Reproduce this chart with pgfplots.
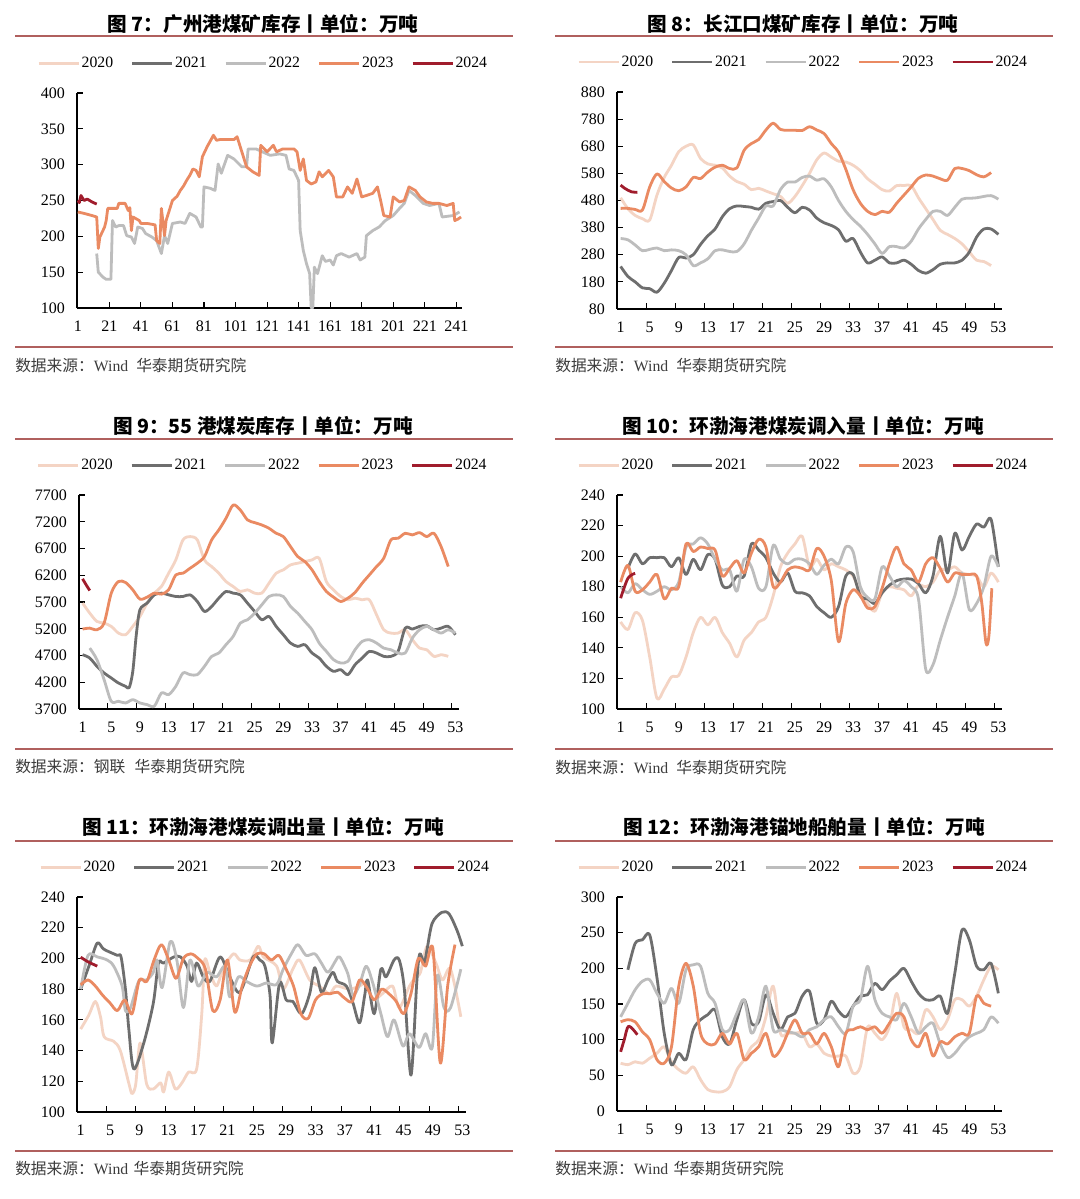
\documentclass[border=0pt]{standalone}
\usepackage{fontspec}
\setmainfont{Liberation Serif}
\newfontfamily\cjk{Noto Sans CJK SC}
\usepackage{pgfplots}
\pgfplotsset{compat=1.18}

\definecolor{c20}{HTML}{F4D4C4}
\definecolor{c21}{HTML}{6E6E6E}
\definecolor{c22}{HTML}{BDBDBD}
\definecolor{c23}{HTML}{EA8A62}
\definecolor{c24}{HTML}{A01C2C}
\definecolor{rulec}{HTML}{B0605E}
\definecolor{srcgray}{HTML}{3C3C3C}

\tikzset{
  s20/.style={color=c20, line width=2.1pt, line join=round},
  s21/.style={color=c21, line width=2.1pt, line join=round},
  s22/.style={color=c22, line width=2.1pt, line join=round},
  s23/.style={color=c23, line width=2.1pt, line join=round},
  s24/.style={color=c24, line width=2.1pt, line join=round},
}

\pgfplotsset{
  panel/.style={
    scale only axis, anchor=south west,
    axis x line*=bottom, axis y line*=left,
    axis line style={-, line width=0.8pt, black},
    tick align=inside,
    major tick length=4.5pt,
    tick style={black, line width=0.8pt},
    tick label style={font=\fontsize{12}{14}\selectfont, text=black},
    yticklabel style={xshift=-5.5pt},
    xticklabel style={yshift=-6pt},
    /pgf/number format/assume math mode=true,
    /pgf/number format/1000 sep={},
    scaled y ticks=false,
    legend columns=5,
    legend style={at={(0.483,1.138)}, anchor=center, draw=none, fill=none,
      font=\fontsize{11.8}{13}\selectfont, inner sep=0pt,
      /tikz/every even column/.append style={column sep=12pt},
      nodes={inner sep=1.2pt}},
    legend image code/.code={\draw[##1] (0pt,0pt) -- (30pt,0pt);},
    legend entries={2020,2021,2022,2023,2024},
  },
  weekly/.style={
    xmin=0.5, xmax=53.5,
    xtick={4.5,8.5,...,52.5}, xticklabels={},
    extra x ticks={1,5,...,53},
    extra x tick labels={1,5,9,13,17,21,25,29,33,37,41,45,49,53},
    extra x tick style={tick style={draw=none}},
  },
}

\newcommand\legimgs{\addlegendimage{s20}\addlegendimage{s21}\addlegendimage{s22}\addlegendimage{s23}\addlegendimage{s24}}

\begin{document}
\begin{tikzpicture}
\path[use as bounding box, fill=white] (0,0) rectangle (810pt,-899.25pt);

\begin{scope}[x=0.75pt, y=-0.75pt]
  \tikzset{ttl/.style={font=\cjk\bfseries\fontsize{14.7}{17}\selectfont, inner sep=0pt},
           src/.style={anchor=west, inner sep=0pt, text=srcgray, font=\fontsize{11.8}{13}\selectfont}}
  \node[ttl] at (263,24) {图 7：广州港煤矿库存丨单位：万吨};
  \node[ttl] at (803,24) {图 8：长江口煤矿库存丨单位：万吨};
  \node[ttl] at (263,426) {图 9：55 港煤炭库存丨单位：万吨};
  \node[ttl] at (803,426) {图 10：环渤海港煤炭调入量丨单位：万吨};
  \node[ttl] at (263,827) {图 11：环渤海港煤炭调出量丨单位：万吨};
  \node[ttl] at (804,827) {图 12：环渤海港锚地船舶量丨单位：万吨};
  \foreach \y in {36,347,439,749,841,1151} {\draw[rulec, line width=1.3pt] (15,\y) -- (513,\y); \draw[rulec, line width=1.3pt] (555,\y) -- (1053,\y);}
  \node[src] at (15,365) {{\cjk 数据来源：}Wind\hspace{6pt}{\cjk 华泰期货研究院}};
  \node[src] at (555,365) {{\cjk 数据来源：}Wind\hspace{6pt}{\cjk 华泰期货研究院}};
  \node[src] at (15,767) {{\cjk 数据来源：钢联\hspace{7pt}华泰期货研究院}};
  \node[src] at (555,767) {{\cjk 数据来源：}Wind\hspace{6pt}{\cjk 华泰期货研究院}};
  \node[src] at (15,1168) {{\cjk 数据来源：}Wind\hspace{4pt}{\cjk 华泰期货研究院}};
  \node[src] at (555,1168) {{\cjk 数据来源：}Wind\hspace{4pt}{\cjk 华泰期货研究院}};
\end{scope}

% ---------- 图7 广州港
\begin{axis}[panel, at={(57.75pt,-231pt)}, width=288.75pt, height=161.25pt,
  xmin=0.5, xmax=244.6, xtick={1,21,...,241}, ymin=100, ymax=400, ytick={100,150,...,400}]
\legimgs
\addplot[s22] coordinates {(13,176)(14,150)(17,143)(19,140)(21,140)(22,140)(23,222)(25,213)(27,215)(30,215)(32,201)(35,199)(37,190)(39,213)(42,211)(44,204)(48,199)(51,194)(54,176)(56,201)(58,190)(61,218)(66,220)(69,218)(72,232)(76,227)(79,213)(80,213)(81,269)(85,267)(88,264)(90,301)(92,288)(96,313)(100,308)(105,297)(108,297)(109,322)(114,322)(118,318)(123,313)(129,315)(133,313)(135,294)(138,292)(141,278)(142,208)(144,180)(146,162)(148,148)(149,100)(150,100)(151,157)(153,148)(156,173)(158,165)(161,167)(163,160)(165,173)(168,176)(173,171)(178,176)(180,167)(183,171)(184,201)(188,208)(192,213)(196,222)(201,229)(205,239)(208,246)(211,264)(215,257)(220,246)(224,243)(230,246)(232,227)(239,229)(243,234)};
\addplot[s23] coordinates {(1,234)(5,232)(10,229)(13,227)(14,183)(15,199)(18,213)(19,222)(20,239)(26,239)(27,246)(31,246)(33,236)(34,240)(35,208)(36,227)(40,222)(41,218)(45,218)(50,216)(51,194)(53,190)(54,239)(56,201)(57,222)(59,236)(61,250)(64,256)(66,264)(68,270)(70,278)(72,285)(74,294)(76,292)(78,283)(80,311)(83,325)(87,341)(89,334)(91,335)(100,335)(102,339)(104,325)(108,297)(112,290)(116,285)(117,327)(121,318)(125,327)(127,318)(131,322)(138,322)(140,318)(142,292)(144,308)(146,278)(149,273)(152,276)(154,290)(156,283)(160,292)(163,283)(165,255)(169,255)(172,269)(175,260)(178,280)(181,255)(184,257)(188,260)(191,269)(193,250)(195,229)(199,227)(201,255)(205,248)(208,250)(211,269)(215,264)(218,255)(222,248)(226,246)(230,246)(235,243)(239,246)(240,222)(242,224)(244,227)};
\addplot[s24] coordinates {(1,250)(2,247)(3,257)(5,250)(7,252)(10,248)(13,245)};
\end{axis}

% ---------- 图8 长江口
\begin{axis}[panel, weekly, at={(462.75pt,-231.75pt)}, width=288.75pt, height=162.75pt,
  ymin=80, ymax=880, ytick={80,180,...,880}]
\legimgs
\addplot[s20, smooth] coordinates {(1,490)(2,450)(3,425)(4,413)(5,408)(6,500)(7,565)(8,610)(9,660)(10,680)(11,685)(12,635)(13,615)(14,610)(15,600)(16,570)(17,550)(18,540)(19,520)(20,525)(21,515)(22,505)(23,495)(24,470)(25,495)(26,535)(27,580)(28,630)(29,655)(30,640)(31,625)(32,622)(33,610)(34,590)(35,560)(36,540)(37,520)(38,515)(39,535)(40,535)(41,535)(42,490)(43,450)(44,410)(45,370)(46,355)(47,340)(48,320)(49,290)(50,260)(51,255)(52,240)};
\addplot[s21, smooth] coordinates {(1,237)(2,200)(3,180)(4,158)(5,155)(6,142)(7,175)(8,222)(9,270)(10,268)(11,280)(12,318)(13,350)(14,375)(15,420)(16,450)(17,460)(18,458)(19,455)(20,448)(21,470)(22,476)(23,480)(24,455)(25,435)(26,455)(27,445)(28,415)(29,398)(30,388)(31,372)(32,330)(33,340)(34,290)(35,250)(36,260)(37,272)(38,250)(39,250)(40,260)(41,245)(42,222)(43,212)(44,225)(45,245)(46,250)(47,250)(48,260)(49,290)(50,345)(51,375)(52,375)(53,355)};
\addplot[s22, smooth] coordinates {(1,340)(2,335)(3,316)(4,295)(5,300)(6,305)(7,295)(8,298)(9,295)(10,280)(11,240)(12,250)(13,265)(14,295)(15,298)(16,292)(17,292)(18,320)(19,370)(20,415)(21,460)(22,460)(23,520)(24,548)(25,548)(26,565)(27,570)(28,555)(29,560)(30,530)(31,480)(32,440)(33,410)(34,385)(35,355)(36,320)(37,285)(38,310)(39,310)(40,305)(41,330)(42,375)(43,410)(44,440)(45,440)(46,425)(47,455)(48,485)(49,488)(50,490)(51,495)(52,498)(53,485)};
\addplot[s23, smooth] coordinates {(1,451)(2,451)(3,447)(4,445)(5,530)(6,578)(7,550)(8,526)(9,516)(10,530)(11,565)(12,561)(13,585)(14,603)(15,610)(16,598)(17,600)(18,665)(19,690)(20,705)(21,740)(22,765)(23,742)(24,739)(25,739)(26,738)(27,752)(28,740)(29,727)(30,690)(31,658)(32,595)(33,520)(34,470)(35,440)(36,428)(37,440)(38,437)(39,470)(40,500)(41,530)(42,562)(43,574)(44,570)(45,560)(46,555)(47,598)(48,598)(49,590)(50,575)(51,567)(52,583)};
\addplot[s24, smooth] coordinates {(1,537)(1.5,526)(2,518)(2.5,512)(3.3,510)};
\end{axis}

% ---------- 图9 55港
\begin{axis}[panel, weekly, at={(59.25pt,-531.75pt)}, width=285pt, height=160.5pt,
  ymin=3700, ymax=7700, ytick={3700,4200,...,7700}]
\legimgs
\addplot[s20, smooth] coordinates {(1,5680)(2,5492)(3,5337)(4,5306)(5,5244)(6,5119)(7,5088)(8,5244)(9,5430)(10,5679)(11,5866)(12,5990)(13,6238)(14,6487)(15,6860)(16,6923)(17,6860)(18,6487)(19,6363)(20,6238)(21,6083)(22,5990)(23,5897)(24,5928)(25,5866)(26,5866)(27,6052)(28,6238)(29,6301)(30,6394)(31,6425)(32,6456)(33,6487)(34,6518)(35,6083)(36,5928)(37,5803)(38,5741)(39,5772)(40,5741)(41,5741)(42,5461)(43,5181)(44,5119)(45,5119)(46,5181)(47,4995)(48,4839)(49,4808)(50,4684)(51,4715)(52,4684)};
\addplot[s21, smooth] coordinates {(1,4715)(2,4653)(3,4498)(4,4373)(5,4280)(6,4186)(7,4124)(7.5,4100)(8,4400)(8.5,5100)(9,5555)(10,5679)(11,5834)(12,5866)(13,5834)(14,5803)(15,5803)(16,5834)(17,5710)(18,5523)(19,5617)(20,5772)(21,5897)(22,5866)(23,5834)(24,5679)(25,5523)(26,5368)(27,5430)(28,5244)(29,5088)(30,4933)(31,4870)(32,4902)(33,4746)(34,4653)(35,4498)(36,4404)(37,4435)(38,4342)(39,4528)(40,4653)(41,4777)(42,4746)(43,4684)(44,4684)(45,4777)(46,5212)(47,5194)(48,5244)(49,5256)(50,5181)(51,5212)(52,5244)(53,5088)};
\addplot[s22, smooth] coordinates {(2,4839)(3,4622)(4,4249)(5,3844)(6,3844)(7,3813)(8,3875)(9,3813)(10,3782)(11,3751)(12,4000)(13,3969)(14,4124)(15,4373)(16,4342)(17,4342)(18,4498)(19,4684)(20,4746)(21,4902)(22,5057)(23,5306)(24,5368)(25,5492)(26,5648)(27,5803)(28,5834)(29,5803)(30,5617)(31,5492)(32,5337)(33,5181)(34,4933)(35,4777)(36,4622)(37,4560)(38,4591)(39,4808)(40,4964)(41,4995)(42,4933)(43,4839)(44,4808)(45,4746)(46,4746)(47,5026)(48,5181)(49,5244)(50,5181)(51,5119)(52,5181)(53,5119)};
\addplot[s23, smooth] coordinates {(1,5194)(2,5212)(3,5181)(4,5306)(5,5866)(6,6083)(7,6064)(8,5928)(9,5754)(10,5791)(11,5866)(12,5847)(13,5928)(14,6207)(15,6238)(16,6332)(17,6425)(18,6550)(19,6860)(20,7047)(21,7265)(22,7513)(23,7420)(24,7234)(25,7184)(26,7140)(27,7078)(28,6985)(29,6923)(30,6736)(31,6550)(32,6456)(33,6301)(34,6083)(35,5897)(36,5791)(37,5710)(38,5772)(39,5878)(40,6052)(41,6207)(42,6363)(43,6518)(44,6860)(45,6891)(46,6985)(47,6954)(48,6997)(49,6923)(50,6985)(51,6736)(52,6363)};
\addplot[s24, smooth] coordinates {(1,6133)(1.5,6020)(2,5915)};
\end{axis}

% ---------- 图10 调入量
\begin{axis}[panel, weekly, at={(462.75pt,-531.75pt)}, width=288.75pt, height=160.5pt,
  ymin=100, ymax=240, ytick={100,120,...,240}]
\legimgs
\addplot[s20, smooth] coordinates {(1,157)(2,152)(3,163)(4,158)(5,134)(6,107)(7,113)(8,121)(9,122)(10,134)(11,150)(12,160)(13,155)(14,160)(15,150)(16,143)(17,134)(18,145)(19,150)(20,157)(21,160)(22,174)(23,193)(24,202)(25,208)(26,213)(27,193)(28,198)(29,191)(30,195)(31,193)(32,191)(33,187)(34,176)(35,169)(36,164)(37,176)(38,180)(39,179)(40,178)(41,174)(42,181)(43,180)(44,183)(45,191)(46,191)(47,193)(48,189)(49,188)(50,187)(51,180)(52,189)(53,183)};
\addplot[s21, smooth] coordinates {(2,192)(3,201.5)(4,195)(5,199)(6,199)(7,199)(8,193)(9,199)(10,188)(11,198)(12,191)(13,201)(14,198)(15,181)(16,180)(17,187)(18,187)(19,208)(20,204)(21,199)(22,189)(23,183)(24,189)(25,177)(26,176)(27,174)(28,167)(29,163)(30,160)(31,167)(32,187)(33,188)(34,174)(35,172)(36,169)(37,176)(38,181)(39,184)(40,185)(41,185)(42,182)(43,176)(44,187)(45,213)(46,189)(47,215)(48,204)(49,213)(50,221)(51,219)(52,224)(53,193)};
\addplot[s22, smooth] coordinates {(1,180)(2,176)(3,182)(4,178)(5,175)(6,177)(7,180)(8,178)(9,183)(10,206)(11,208)(12,212)(13,208)(14,198)(15,191)(16,191)(17,177)(18,198)(19,193)(20,179)(21,180)(22,207)(23,198)(24,195)(25,198)(26,198)(27,195)(28,188)(29,194)(30,198)(31,195)(32,206)(33,203)(34,180)(35,173)(36,172)(37,193)(38,187)(39,180)(40,184)(41,180)(42,172)(43,126)(44,129)(45,145)(46,160)(47,174)(48,189)(49,165)(50,169)(51,180)(52,200)(53,193)};
\addplot[s23, smooth] coordinates {(1,183)(2,194)(3,177)(4,178)(5,183)(6,188)(7,172)(8,179)(9,180)(10,208)(11,203)(12,206)(13,205)(14,204)(15,187)(16,192)(17,197)(18,189)(19,202)(20,211)(21,206)(22,180)(23,183)(24,191)(25,193)(26,192)(27,191)(28,205)(29,200)(30,184)(31,144)(32,169)(33,178)(34,174)(35,166)(36,167)(37,179)(38,195)(39,206)(40,195)(41,191)(42,183)(43,195)(44,199)(45,192)(46,183)(47,189)(48,188)(49,188)(50,187)(50.7,170)(51.3,143)(51.7,148)(52.1,179)};
\addplot[s24, smooth] coordinates {(1,172.5)(2,185.5)(3,188.8)};
\end{axis}

% ---------- 图11 调出量
\begin{axis}[panel, weekly, at={(57.75pt,-834pt)}, width=291.75pt, height=161.25pt,
  ymin=100, ymax=240, ytick={100,120,...,240}]
\legimgs
\addplot[s20, smooth] coordinates {(1,154)(2.1,163)(3,172)(3.7,162)(4.2,149)(5.5,146)(6.4,140)(7.6,118)(8,112)(8.5,118)(9.1,145)(10,118)(10.9,115)(11.9,119)(12.3,113)(13,126)(13.9,115)(14.8,119)(15.7,126)(16.8,128)(17.5,164)(17.9,199)(18.6,191)(19.5,182)(20.4,193)(21.8,203)(22.7,199)(24.1,199)(25.2,208)(25.9,201)(27.7,195)(28.6,180)(29.9,193)(30.8,199)(32.2,186)(33.5,182)(34.9,177)(35.8,182)(37.6,180)(39,182)(39.9,184)(40.8,173)(42.1,177)(43.5,182)(44.4,168)(45.8,182)(46.7,188)(47.3,191)(48.2,208)(49.4,197)(50.3,186)(51.4,193)(52.8,162)};
\addplot[s21, smooth] coordinates {(1,180)(2.2,196)(3.26,210)(4.16,206)(6,202)(6.5,201)(7.1,180)(7.56,154)(8.23,128)(9.6,145)(10.9,171)(11.6,197)(12.3,197)(13.7,201)(14.6,201)(15.5,195)(16.1,185)(16.8,197)(17.7,188)(18.6,185)(20,201)(21.3,188)(22.7,178)(24.5,201)(25.4,199)(26.1,195)(26.8,176)(27.1,145)(28.1,184)(29,173)(29.9,172)(31.1,164)(32.2,177)(32.9,194)(33.8,178)(34.7,186)(35.4,191)(36,185)(37.2,182)(38.1,171)(39,158)(39.7,176)(40.1,186)(41,164)(41.9,193)(42.6,188)(43.7,199)(44.4,199)(45.1,180)(46,124)(46.8,185)(47.2,203)(47.8,197)(48.2,206)(48.9,223)(50.2,230)(51.2,229)(52.3,218)(53,208)};
\addplot[s22, smooth] coordinates {(1,180)(2,202)(3.26,201)(4.6,199)(5.5,195)(6.65,182)(7.1,166)(7.8,168)(8.9,185)(10,186)(10.9,191)(11.4,199)(12.1,181)(13.2,211)(14.1,199)(15,168)(15.9,199)(17,182)(18.2,191)(19.5,188)(20.7,195)(21.3,175)(22.5,188)(23.6,185)(25,182)(26.3,184)(27.7,183)(28.6,193)(29.7,203)(30.6,209)(31.7,202)(32.9,203)(33.8,197)(34.7,191)(35.8,199)(36.3,201)(37.4,190)(38.1,176)(39,183)(39.9,195)(40.8,184)(41.9,164)(42.8,149)(43.7,160)(44.9,143)(45.8,151)(47.1,142)(48,151)(48.9,142)(49.6,189)(50.5,168)(51.4,168)(52.8,193)};
\addplot[s23, smooth] coordinates {(1,182.8)(2,186)(3,182)(4,176)(5,171)(6,166)(7,173)(8,164)(9,186)(10,185)(11,199)(12,209)(13,199)(14,187)(15,200)(16,203)(17,200)(18,193)(19,166)(20,173)(21,199)(22,165)(23,182)(24,195)(25,203)(26,203)(27,199)(28,202)(29,193)(30,182)(31,164)(32,161)(33,173)(34,177)(35,177)(36,178)(37,174)(38,172)(39,186)(40,181)(41,173)(42,180)(43,177)(44,172)(45,164)(46,177)(47,200)(48,195)(49,206)(50,132)(51,182)(52,209)};
\addplot[s24, smooth] coordinates {(1,200.8)(2,197.8)(3.26,195)};
\end{axis}

% ---------- 图12 锚地船舶
\begin{axis}[panel, weekly, at={(462.75pt,-833.25pt)}, width=288.75pt, height=160.5pt,
  ymin=0, ymax=300, ytick={0,50,...,300}]
\legimgs
\addplot[s20, smooth] coordinates {(1,67)(2,65)(3,69)(4,67)(5,74)(6,81)(7,90)(8,69)(9,58)(10,53)(11,62)(12,44)(13,30)(14,27)(15,27)(16,34)(17,58)(18,72)(19,90)(20,100)(21,132)(22,175)(23,109)(24,109)(25,109)(26,109)(27,90)(28,94)(29,81)(30,77)(31,77)(32,77)(33,53)(34,62)(35,118)(36,109)(37,100)(38,118)(39,165)(40,118)(41,114)(42,109)(43,142)(44,132)(45,114)(46,128)(47,156)(48,156)(49,147)(50,161)(51,184)(52,203)(53,198)};
\addplot[s21, smooth] coordinates {(2,198)(3,235)(4,240)(5,247)(6,187)(7,109)(8,65)(9,81)(10,72)(11,114)(12,128)(13,135)(14,142)(15,104)(16,94)(17,128)(18,156)(19,123)(20,125)(21,163)(22,137)(23,114)(24,132)(25,137)(26,161)(27,168)(28,123)(29,128)(30,154)(31,140)(32,132)(33,147)(34,161)(35,163)(36,179)(37,170)(38,182)(39,191)(40,200)(41,182)(42,165)(43,156)(44,156)(45,161)(46,137)(47,193)(48,254)(49,240)(50,203)(51,198)(52,207)(53,165)};
\addplot[s22, smooth] coordinates {(1,132)(2,151)(3,170)(4,182)(5,184)(6,165)(7,151)(8,172)(9,151)(10,198)(11,205)(12,203)(13,165)(14,151)(15,114)(16,114)(17,137)(18,156)(19,109)(20,132)(21,175)(22,114)(23,114)(24,111)(25,109)(26,104)(27,114)(28,118)(29,128)(30,132)(31,118)(32,109)(33,147)(34,156)(35,203)(36,156)(37,137)(38,132)(39,128)(40,151)(41,132)(42,109)(43,118)(44,123)(45,94)(46,75)(47,81)(48,94)(49,104)(50,109)(51,114)(52,132)(53,123)};
\addplot[s23, smooth] coordinates {(1,125)(2,128)(3,125)(4,111)(5,100)(6,72)(7,67)(8,90)(9,175)(10,207)(11,175)(12,109)(13,94)(14,94)(15,109)(16,94)(17,109)(18,72)(19,81)(20,90)(21,109)(22,77)(23,86)(24,109)(25,128)(26,109)(27,109)(28,94)(29,109)(30,90)(31,62)(32,109)(33,114)(34,118)(35,114)(36,118)(37,109)(38,123)(39,137)(40,132)(41,100)(42,90)(43,109)(44,77)(45,97)(46,94)(47,104)(48,109)(49,109)(50,161)(51,151)(52,147)};
\addplot[s24, smooth] coordinates {(1,83)(1.5,100)(2.1,119)(3.3,107)};
\end{axis}
\end{tikzpicture}
\end{document}
